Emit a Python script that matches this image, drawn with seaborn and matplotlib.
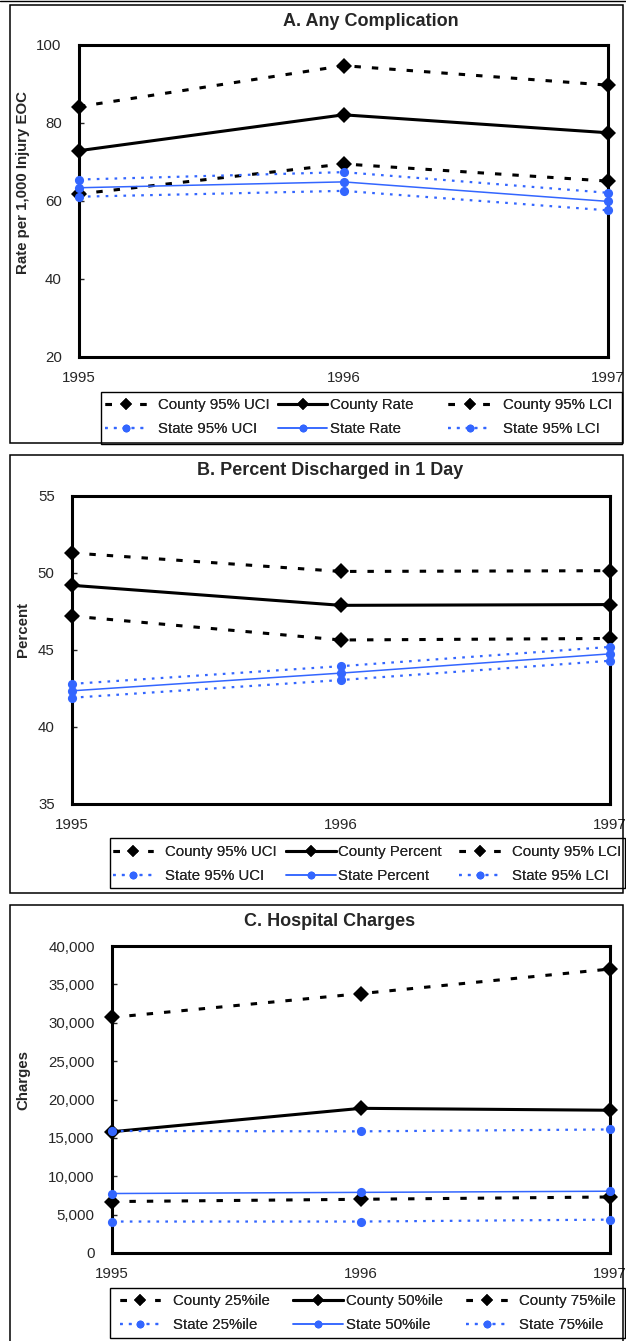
import matplotlib
matplotlib.use("Agg")
import matplotlib.pyplot as plt
import seaborn as sns
import pandas as pd
from matplotlib.lines import Line2D
from matplotlib.patches import Rectangle
from matplotlib.ticker import FuncFormatter

# ---------------- data ----------------
years = [1995, 1996, 1997]

# A. Any Complication (rate per 1,000 injury EOC)
a_county_uci = [84.2, 94.7, 89.7]
a_county_rate = [72.9, 82.1, 77.5]
a_county_lci = [61.8, 69.5, 65.1]
a_state_uci = [65.5, 67.4, 62.1]
a_state_rate = [63.4, 64.9, 59.9]
a_state_lci = [61.1, 62.6, 57.6]
a_labels = ["County 95% UCI", "County Rate", "County 95% LCI",
            "State 95% UCI", "State Rate", "State 95% LCI"]
a_yticks = [20, 40, 60, 80, 100]

# B. Percent discharged in 1 day
b_county_uci = [51.3, 50.1, 50.15]
b_county_pct = [49.2, 47.9, 47.95]
b_county_lci = [47.2, 45.65, 45.75]
b_state_uci = [42.8, 43.95, 45.2]
b_state_pct = [42.35, 43.5, 44.75]
b_state_lci = [41.9, 43.05, 44.3]
b_labels = ["County 95% UCI", "County Percent", "County 95% LCI",
            "State 95% UCI", "State Percent", "State 95% LCI"]
b_yticks = [35, 40, 45, 50, 55]

# C. Hospital charges
c_county_25 = [6700, 7000, 7300]
c_county_50 = [15800, 18850, 18600]
c_county_75 = [30700, 33800, 37000]
c_state_25 = [4100, 4100, 4350]
c_state_50 = [7750, 7900, 8050]
c_state_75 = [15900, 15850, 16100]
c_labels = ["County 25%ile", "County 50%ile", "County 75%ile",
            "State 25%ile", "State 50%ile", "State 75%ile"]
c_yticks = [0, 5000, 10000, 15000, 20000, 25000, 30000, 35000, 40000]

# ---------------- style ----------------
sns.set_style("white")
plt.rcParams["font.family"] = ["Liberation Sans", "DejaVu Sans"]

W, H = 626, 1341
fig = plt.figure(figsize=(W / 100, H / 100), dpi=100)

BLUE = "#3366FF"
S_CDASH = dict(color="black", lw=2.2, ls=(0, (2.1, 3.6)), marker="D", ms=8.6, lms=6.4)
S_CSOL = dict(color="black", lw=2.2, ls="-", marker="D", ms=8.6, lms=6.4)
S_SDOT = dict(color=BLUE, lw=1.6, ls=(0, (1.2, 2.8)), marker="o", ms=6.6, lms=5.6)
S_SSOL = dict(color=BLUE, lw=1.1, ls="-", marker="o", ms=6.6, lms=5.6)
STYLES = [S_CDASH, S_CSOL, S_CDASH, S_SDOT, S_SSOL, S_SDOT]

FS = 10.8


def fx(x):
    return x / W


def fy(y):
    return 1 - y / H


def rect_px(x0, y0, x1, y1):
    return [fx(x0), fy(y1), (x1 - x0) / W, (y1 - y0) / H]


def panel(series, labels, yticks, axpx, title, title_xy, ylabel, ylabel_xy,
          border, legbox, legcols, legrows, fmt=None):
    x0, y0, x1, y1 = axpx
    ax = fig.add_axes(rect_px(x0, y0, x1, y1))
    for vals, lab, st in zip(series, labels, STYLES):
        df = pd.DataFrame({"year": years, "value": vals})
        sns.lineplot(data=df, x="year", y="value", ax=ax, color=st["color"],
                     linewidth=st["lw"], linestyle=st["ls"], marker=st["marker"],
                     markersize=st["ms"], markeredgecolor=st["color"],
                     markerfacecolor=st["color"], markeredgewidth=0,
                     clip_on=False, zorder=4, legend=False)
    ax.set_xlim(years[0], years[-1])
    ax.set_ylim(yticks[0], yticks[-1])
    ax.set_xticks(years)
    ax.set_xticklabels([str(y) for y in years])
    ax.set_yticks(yticks)
    if fmt is not None:
        ax.yaxis.set_major_formatter(FuncFormatter(fmt))
    ax.tick_params(axis="x", length=0, pad=10, labelsize=FS)
    ax.tick_params(axis="y", direction="in", length=3.5, width=1, pad=12.5,
                   labelsize=FS, left=True)
    for sp in ax.spines.values():
        sp.set_visible(True)
        sp.set_linewidth(2.2)
        sp.set_color("black")
    ax.set_xlabel("")
    ax.set_ylabel(ylabel, fontsize=FS, fontweight="bold")
    ax.yaxis.set_label_coords((ylabel_xy[0] - x0) / (x1 - x0),
                              (y1 - ylabel_xy[1]) / (y1 - y0))
    ax.yaxis.label.set_verticalalignment("center")
    ax.set_title(title, fontsize=13, fontweight="bold", pad=0,
                 y=1 + (y0 - title_xy[1]) / (y1 - y0), va="center")
    ax.title.set_x((title_xy[0] - x0) / (x1 - x0))

    # panel border
    bx0, by0, bx1, by1 = border
    fig.add_artist(Rectangle((fx(bx0), fy(by1)), (bx1 - bx0) / W, (by1 - by0) / H,
                             transform=fig.transFigure, fill=False,
                             edgecolor="black", lw=1.1))
    # legend frame
    lx0, ly0, lx1, ly1 = legbox
    fig.add_artist(Rectangle((fx(lx0), fy(ly1)), (lx1 - lx0) / W, (ly1 - ly0) / H,
                             transform=fig.transFigure, fill=False,
                             edgecolor="black", lw=1.0, zorder=5))
    handles = []
    for st in STYLES:
        handles.append(Line2D([], [], color=st["color"], lw=st["lw"], ls=st["ls"],
                              marker=st["marker"], ms=st["lms"],
                              markeredgewidth=0))
    fpx = FS * 100 / 72
    ymid = (legrows[0] + legrows[1]) / 2
    for c, (hs, hl, ts) in enumerate(legcols):
        idx = [c, c + 3]
        leg = fig.legend([handles[i] for i in idx], [labels[i] for i in idx],
                         loc="center left", bbox_to_anchor=(fx(hs), fy(ymid)),
                         frameon=False, borderpad=0, borderaxespad=0,
                         handlelength=hl / fpx,
                         handletextpad=(ts - hs - hl) / fpx,
                         labelspacing=0.68, fontsize=FS, numpoints=1)
        fig.add_artist(leg)
    return ax


fmt_comma = lambda v, p: f"{v:,.0f}"

panel([a_county_uci, a_county_rate, a_county_lci, a_state_uci, a_state_rate, a_state_lci],
      a_labels, a_yticks, (79, 45, 608, 357),
      "A. Any Complication", (371, 22),
      "Rate per 1,000 Injury EOC", (23, 182),
      (10, 5, 623, 443), (101, 392, 622, 444),
      [(105, 41, 158), (278, 49, 330), (448, 44, 503)], (405, 429))

panel([b_county_uci, b_county_pct, b_county_lci, b_state_uci, b_state_pct, b_state_lci],
      b_labels, b_yticks, (72, 496, 610, 804),
      "B. Percent Discharged in 1 Day", (330, 471),
      "Percent", (23, 630),
      (10, 455, 623, 893), (110, 838, 625, 888),
      [(113, 40, 165), (286, 50, 338), (459, 41, 512)], (852, 876))

panel([c_county_25, c_county_50, c_county_75, c_state_25, c_state_50, c_state_75],
      c_labels, c_yticks, (112, 946, 610, 1253),
      "C. Hospital Charges", (330, 921),
      "Charges", (23, 1080),
      (10, 905, 623, 1345), (110, 1288, 625, 1338),
      [(120, 40, 173), (293, 50, 346), (466, 41, 519)], (1301, 1325),
      fmt=fmt_comma)

# thin page rule at the very top
fig.add_artist(Line2D([0, 1], [fy(0.6), fy(0.6)], transform=fig.transFigure,
                      color="black", lw=1.0))

fig.savefig("out.png", dpi=100)
